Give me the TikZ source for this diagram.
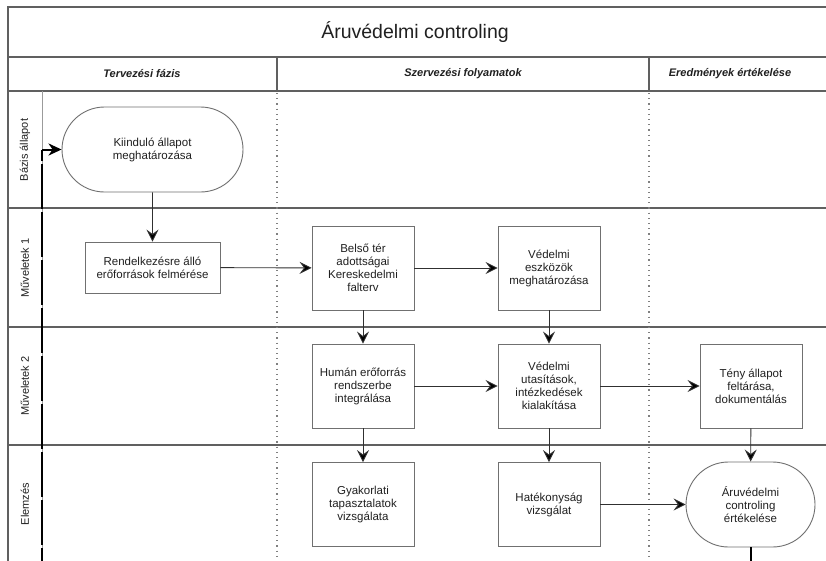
\documentclass[tikz,border=0pt]{standalone}
\usepackage{fontspec}
\setmainfont{Liberation Sans}
\usetikzlibrary{arrows.meta,shapes.misc}
\definecolor{poolline}{HTML}{606060}
\definecolor{boxline}{HTML}{707070}
\definecolor{conn}{HTML}{303030}
\definecolor{txt}{HTML}{202020}
\tikzset{
  poolstyle/.style={draw=poolline, line width=1.4pt},
  thinsep/.style={draw=boxline!70, line width=0.7pt},
  dotsep/.style={draw=poolline!80, line width=1.1pt, dash pattern=on 1.2pt off 4pt},
  procbox/.style={rectangle, draw=boxline, line width=0.9pt, fill=white, text=txt,
    align=center, minimum width=102pt, minimum height=84pt, inner sep=2pt,
    font=\fontsize{11.5}{13}\selectfont},
  termbox/.style={rounded rectangle, draw=boxline, line width=0.9pt, fill=white, text=txt,
    align=center, minimum width=185pt, minimum height=85pt, inner sep=2pt,
    font=\fontsize{11.5}{13}\selectfont},
  flow/.style={draw=conn, line width=0.9pt, -{Stealth[length=12pt,width=12pt,inset=4.5pt,fill=black]}},
  loopline/.style={draw=black, line width=2pt, dash pattern=on 45pt off 3pt},
  laneLabel/.style={rotate=90, text=txt, font=\fontsize{11}{13}\selectfont},
  headLabel/.style={text=txt, font=\fontsize{11}{13}\selectfont\bfseries\itshape},
}
\begin{document}
\begin{tikzpicture}[x=1pt,y=-1pt]
\useasboundingbox (0,0) rectangle (826,560);
\fill[white] (0,0) rectangle (826,560);
\clip (0,0) rectangle (826,560);

% pool frame
\draw[poolstyle] (830,7) -- (8,7) -- (8,600);
\draw[poolstyle] (8,57) -- (830,57);
\draw[poolstyle] (8,91) -- (830,91);
\draw[poolstyle] (8,208) -- (830,208);
\draw[poolstyle] (8,327) -- (830,327);
\draw[poolstyle] (8,445) -- (830,445);
\draw[poolstyle] (277,57) -- (277,91);
\draw[poolstyle] (649,57) -- (649,91);
\draw[thinsep] (42,91) -- (42,600);
\draw[dotsep] (277,93) -- (277,600);
\draw[dotsep] (649,93) -- (649,600);

% title and headers
\node[text=txt, font=\fontsize{19.5}{22}\selectfont] (title) at (415,32) {Áruvédelmi controling};
\node[headLabel] (h1) at (142,74) {Tervezési fázis};
\node[headLabel] (h2) at (463,74) {Szervezési folyamatok};
\node[headLabel] (h3) at (730,74) {Eredmények értékelése};

% lane labels
\node[laneLabel] (l1) at (25,150) {Bázis állapot};
\node[laneLabel] (l2) at (25,268) {Műveletek 1};
\node[laneLabel] (l3) at (25,386) {Műveletek 2};
\node[laneLabel] (l4) at (25,504) {Elemzés};

% nodes
\node[termbox] (start) at (152.5,149.5) {Kiinduló állapot\\meghatározása};
\node[procbox, minimum width=135pt, minimum height=51pt] (r1) at (152.5,267.5) {Rendelkezésre álló\\erőforrások felmérése};
\node[procbox] (belso) at (363,268) {Belső tér\\adottságai\\Kereskedelmi\\falterv};
\node[procbox] (vedeszk) at (549,268) {Védelmi\\eszközök\\meghatározása};
\node[procbox] (human) at (363,386) {Humán erőforrás\\rendszerbe\\integrálása};
\node[procbox] (vedutas) at (549,386) {Védelmi\\utasítások,\\intézkedések\\kialakítása};
\node[procbox] (teny) at (751,386) {Tény állapot\\feltárása,\\dokumentálás};
\node[procbox] (gyak) at (363,504.5) {Gyakorlati\\tapasztalatok\\vizsgálata};
\node[procbox] (hat) at (549,504.5) {Hatékonyság\\vizsgálat};
\node[termbox, minimum width=133pt] (end) at (750.5,504.5) {Áruvédelmi\\controling\\értékelése};

% connectors
\draw[flow] (start) -- (r1);
\draw[flow] (r1) -- (belso);
\draw[flow] (belso) -- (vedeszk);
\draw[flow] (belso) -- (human);
\draw[flow] (vedeszk) -- (vedutas);
\draw[flow] (human) -- (vedutas);
\draw[flow] (vedutas) -- (teny);
\draw[flow] (human) -- (gyak);
\draw[flow] (vedutas) -- (hat);
\draw[flow] (teny) -- (end);
\draw[flow] (hat) -- (end);

% loop back
\coordinate (c1) at (750.5,600);
\coordinate (c2) at (42,600);
\coordinate (c3) at (42,149.5);
\draw[loopline] (end.south) -- (c1) -- (c2) -- (c3);
\draw[draw=black, line width=2pt, -{Stealth[length=13pt,width=12pt,inset=4pt]}] (c3) -- (start.west);
\end{tikzpicture}
\end{document}
